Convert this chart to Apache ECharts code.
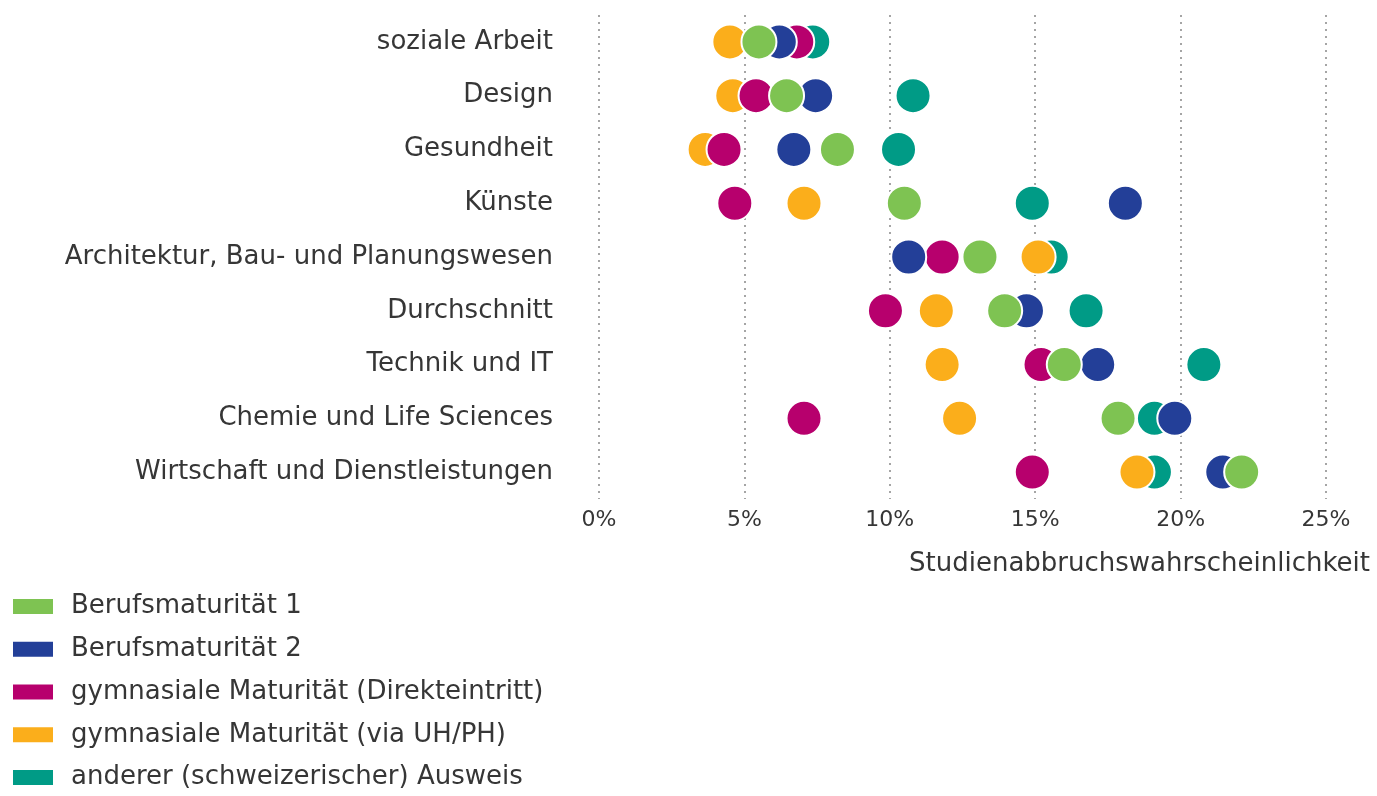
<!DOCTYPE html>
<html lang="de">
  <head>
    <meta charset="UTF-8" />
    <title>Studienabbruch</title>
    <style>
      html,
      body {
        margin: 0;
        width: 100%;
        height: 100%;
        background: #fff;
      }
      #main {
        width: 1377px;
        height: 796px;
      }
    </style>
  </head>
  <body>
    <div id="main"></div>
    <script src="https://cdn.jsdelivr.net/npm/echarts@6/dist/echarts.min.js"></script>
    <script>
      // Kategorien (von oben nach unten)
      const categories = [
        "soziale Arbeit",
        "Design",
        "Gesundheit",
        "Künste",
        "Architektur, Bau- und Planungswesen",
        "Durchschnitt",
        "Technik und IT",
        "Chemie und Life Sciences",
        "Wirtschaft und Dienstleistungen",
      ];
      const xTicks = [0, 5, 10, 15, 20, 25];

      // Werte in % je Ausweis
      const bm1 = [5.5, 6.45, 8.2, 10.5, 13.1, 13.95, 16.0, 17.85, 22.1];
      const bm2 = [6.2, 7.45, 6.7, 18.1, 10.65, 14.7, 17.15, 19.8, 21.45];
      const gymDirekt = [6.8, 5.4, 4.3, 4.67, 11.8, 9.85, 15.2, 7.05, 14.9];
      const gymUhPh = [4.5, 4.6, 3.65, 7.05, 15.1, 11.6, 11.8, 12.4, 18.5];
      const anderer = [7.35, 10.8, 10.3, 14.9, 15.55, 16.75, 20.8, 19.1, 19.1];

      const seriesDefs = [
        { name: "Berufsmaturität 1", data: bm1, color: "#7ec352" },
        { name: "Berufsmaturität 2", data: bm2, color: "#233f98" },
        { name: "gymnasiale Maturität (Direkteintritt)", data: gymDirekt, color: "#b7006d" },
        { name: "gymnasiale Maturität (via UH/PH)", data: gymUhPh, color: "#fbae1b" },
        { name: "anderer (schweizerischer) Ausweis", data: anderer, color: "#009b86" },
      ];

      const font = "'DejaVu Sans', 'Open Sans', sans-serif";
      const textColor = "#363636";

      const chart = echarts.init(document.getElementById("main"));

      const option = {
        backgroundColor: "#fff",
        animation: false,
        textStyle: { fontFamily: font },
        grid: { left: 599, right: 51, top: 15, bottom: 297 },
        legend: {
          orient: "vertical",
          left: 6,
          top: 588,
          height: 220,
          icon: "rect",
          itemWidth: 42,
          itemHeight: 17,
          itemGap: 15.75,
          data: seriesDefs.map((s) => s.name),
          textStyle: {
            fontFamily: font,
            fontSize: 26,
            color: textColor,
            lineHeight: 27,
            padding: [0, 0, 0, 12],
          },
        },
        xAxis: {
          type: "value",
          min: 0,
          max: 25,
          interval: 5,
          axisLine: { show: false },
          axisTick: { show: false },
          axisLabel: {
            margin: 10,
            fontFamily: font,
            fontSize: 22,
            color: textColor,
            formatter: (v) => (xTicks.includes(v) ? v + "%" : ""),
          },
          splitLine: {
            show: true,
            lineStyle: { color: "#a5a5a5", width: 2, type: [2, 5] },
          },
        },
        yAxis: {
          type: "category",
          data: categories,
          inverse: true,
          axisLine: { show: false },
          axisTick: { show: false },
          axisLabel: {
            margin: 46,
            fontFamily: font,
            fontSize: 26,
            color: textColor,
          },
          splitLine: { show: false },
        },
        graphic: [
          {
            type: "text",
            right: 7,
            top: 551,
            style: {
              text: "Studienabbruchswahrscheinlichkeit",
              fontFamily: font,
              fontSize: 26,
              fill: textColor,
            },
          },
        ],
        // Reihenfolge umgekehrt: erste Legendenreihe liegt oben
        series: seriesDefs
          .slice()
          .reverse()
          .map((s) => ({
            name: s.name,
            type: "scatter",
            symbol: "circle",
            symbolSize: 35,
            itemStyle: { color: s.color, opacity: 1, borderColor: "#fff", borderWidth: 2 },
            data: s.data.map((v, i) => [v, categories[i]]),
          })),
      };
      chart.setOption(option);
      window.onresize = function () {
        chart.resize();
      };
    </script>
  </body>
</html>
